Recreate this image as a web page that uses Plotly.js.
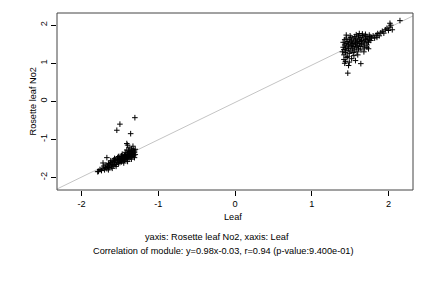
<!DOCTYPE html>
<html>
<head>
<meta charset="utf-8">
<script src="https://cdn.plot.ly/plotly-3.0.1.min.js"></script>
<style>html,body{margin:0;padding:0;background:#fff;}#chart{width:432px;height:288px;}</style>
</head>
<body>
<div id="chart"></div>
<script>
// Lower-left cluster (Leaf, Rosette leaf No2)
const leafA = [-1.78,-1.76,-1.74,-1.72,-1.71,-1.70,-1.69,-1.68,-1.67,-1.66,-1.65,-1.64,-1.63,-1.62,-1.61,-1.60,-1.59,-1.58,-1.57,-1.56,-1.55,-1.54,-1.53,-1.52,-1.51,-1.50,-1.50,-1.49,-1.48,-1.48,-1.47,-1.46,-1.46,-1.45,-1.44,-1.44,-1.43,-1.42,-1.42,-1.41,-1.40,-1.40,-1.39,-1.38,-1.38,-1.37,-1.36,-1.36,-1.35,-1.34,-1.34,-1.33,-1.32,-1.32,-1.31,-1.30,-1.30,-1.31,-1.35,-1.39,-1.43,-1.47,-1.52,-1.57,-1.62,-1.45,-1.40,-1.35,-1.55,-1.60,-1.65,-1.38,-1.33,-1.41,-1.37,-1.43,-1.48,-1.53,-1.58,-1.63,-1.50,-1.46,-1.42,-1.38,-1.34,-1.31,
  -1.305,-1.50,-1.54,-1.36,-1.41,-1.40,-1.67,-1.79,-1.72];
const rosetteA = [-1.84,-1.79,-1.82,-1.76,-1.70,-1.80,-1.74,-1.67,-1.77,-1.71,-1.64,-1.74,-1.68,-1.61,-1.72,-1.66,-1.58,-1.69,-1.62,-1.55,-1.66,-1.60,-1.53,-1.63,-1.57,-1.50,-1.61,-1.55,-1.47,-1.59,-1.52,-1.45,-1.57,-1.50,-1.42,-1.55,-1.48,-1.40,-1.53,-1.46,-1.38,-1.51,-1.44,-1.36,-1.49,-1.42,-1.33,-1.47,-1.40,-1.30,-1.45,-1.37,-1.28,-1.43,-1.35,-1.26,-1.40,-1.48,-1.25,-1.30,-1.34,-1.39,-1.45,-1.50,-1.56,-1.62,-1.58,-1.52,-1.71,-1.76,-1.80,-1.22,-1.18,-1.28,-1.32,-1.43,-1.43,-1.48,-1.54,-1.63,-1.54,-1.50,-1.46,-1.41,-1.36,-1.31,
  -0.43,-0.60,-0.76,-0.85,-1.11,-1.15,-1.48,-1.85,-1.62];
// Upper-right cluster
const leafB = [1.40,1.41,1.41,1.42,1.42,1.43,1.43,1.44,1.44,1.45,1.45,1.46,1.46,1.47,1.47,1.48,1.48,1.49,1.49,1.50,1.50,1.51,1.51,1.52,1.52,1.53,1.53,1.54,1.54,1.55,1.55,1.56,1.56,1.57,1.57,1.58,1.58,1.59,1.59,1.60,1.60,1.61,1.61,1.62,1.62,1.63,1.63,1.64,1.64,1.65,1.65,1.66,1.67,1.67,1.68,1.69,1.69,1.70,1.71,1.72,1.72,1.73,1.74,1.75,1.76,1.77,1.78,1.80,1.82,1.84,1.86,1.88,1.90,1.92,1.94,1.96,1.98,2.00,2.02,2.02,2.05,2.15,2.03,
  1.42,1.44,1.46,1.43,1.47,1.49,1.48,1.57,1.64,1.52,1.55,1.60,1.68,1.74,1.58,1.50,1.45,1.70,1.75,1.72,1.85,1.62,1.66];
const rosetteB = [1.30,1.42,1.55,1.22,1.36,1.48,1.62,1.28,1.40,1.52,1.66,1.33,1.45,1.57,1.18,1.38,1.50,1.62,1.26,1.43,1.55,1.68,1.32,1.47,1.59,1.38,1.52,1.64,1.28,1.44,1.56,1.70,1.35,1.50,1.61,1.42,1.55,1.66,1.30,1.47,1.58,1.72,1.38,1.52,1.63,1.44,1.57,1.68,1.35,1.50,1.60,1.73,1.45,1.56,1.66,1.40,1.53,1.62,1.70,1.48,1.58,1.66,1.55,1.63,1.70,1.60,1.67,1.72,1.66,1.74,1.78,1.72,1.80,1.84,1.79,1.88,1.92,1.86,1.95,2.05,1.88,2.12,2.00,
  1.10,1.05,1.15,1.00,0.74,1.03,0.94,1.07,0.99,1.12,1.20,1.22,1.30,1.38,1.75,1.72,1.74,1.76,1.74,1.42,1.68,1.78,1.77];

const leaf = leafA.concat(leafB);
const rosette = rosetteA.concat(rosetteB);

const slope = 0.98, intercept = -0.03;
const xRange = [-2.32, 2.32], yRange = [-2.33, 2.32];
const xTicks = [-2, -1, 0, 1, 2];
const yTicks = [-2, -1, 0, 1, 2];
const fitX = xRange.slice();
const fitY = fitX.map(v => slope * v + intercept);

const font = {family: 'Liberation Sans, Arial, sans-serif', size: 9.2, color: '#000'};

const traces = [
  {x: fitX, y: fitY, mode: 'lines', line: {color: '#c4c4c4', width: 1}, hoverinfo: 'skip'},
  {x: leaf, y: rosette, mode: 'markers', type: 'scatter',
   marker: {symbol: 'cross-thin', size: 4, color: '#000', line: {color: '#000', width: 1}}}
];

const layout = {
  width: 432, height: 288,
  margin: {l: 57, r: 19, t: 13, b: 98},
  paper_bgcolor: '#fff', plot_bgcolor: '#fff',
  showlegend: false,
  font: font,
  xaxis: {range: xRange, tickvals: xTicks, ticktext: xTicks.map(String), ticks: 'outside', ticklen: 5, tickcolor: '#000',
          showgrid: false, zeroline: false, showline: false, tickfont: font},
  yaxis: {range: yRange, tickvals: yTicks, ticktext: yTicks.map(String), ticks: 'outside', ticklen: 5, tickcolor: '#000',
          tickangle: -90, showgrid: false, zeroline: false, showline: false, tickfont: font},
  shapes: [{type: 'rect', xref: 'paper', yref: 'paper', x0: 0, x1: 1, y0: 0, y1: 1, line: {color: '#444', width: 1}}],
  annotations: [
    {text: 'Leaf', xref: 'paper', yref: 'paper', x: 0.493, y: 0, yshift: -27, showarrow: false, font: font, yanchor: 'middle'},
    {text: 'Rosette leaf No2', xref: 'paper', yref: 'paper', x: 0, y: 0.5, xshift: -25, textangle: -90, showarrow: false, font: font, xanchor: 'center'},
    {text: 'yaxis: Rosette leaf No2, xaxis: Leaf', xref: 'paper', yref: 'paper', x: 0.449, y: 0, yshift: -47, showarrow: false, font: font, yanchor: 'middle'},
    {text: 'Correlation of module: y=0.98x-0.03, r=0.94 (p-value:9.400e-01)', xref: 'paper', yref: 'paper', x: 0.465, y: 0, yshift: -61, showarrow: false, font: font, yanchor: 'middle'}
  ]
};

Plotly.newPlot('chart', traces, layout, {staticPlot: true, displayModeBar: false});
</script>
</body>
</html>
